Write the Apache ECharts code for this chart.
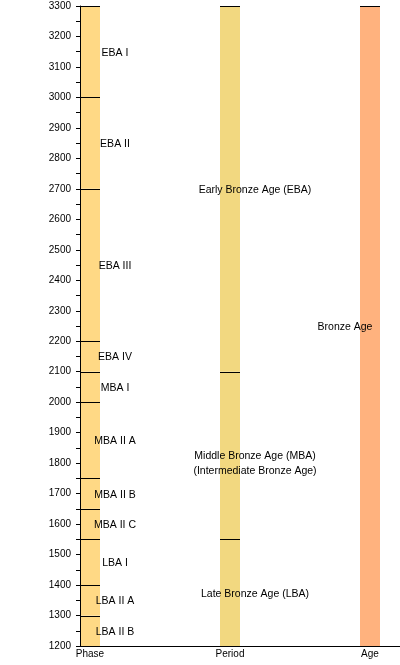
<!DOCTYPE html>
<html>
<head>
    <meta charset="UTF-8">
    <title>Bronze Age chronology</title>
    <script src="https://cdn.jsdelivr.net/npm/echarts@6/dist/echarts.min.js"></script>
</head>
<body style="margin: 0; background: #fff;">
<div id="main" style="width: 400px; height: 665px;"></div>
<script>
    // columns of the chart
    var columns = ['Phase', 'Period', 'Age'];

    // boundaries (BCE) and names of each level
    var phaseBounds = [3300, 3000, 2700, 2200, 2100, 2000, 1750, 1650, 1550, 1400, 1300, 1200];
    var phaseNames = ['EBA I', 'EBA II', 'EBA III', 'EBA IV', 'MBA I', 'MBA II A', 'MBA II B',
        'MBA II C', 'LBA I', 'LBA II A', 'LBA II B'];

    var periodBounds = [3300, 2100, 1550, 1200];
    var periodNames = ['Early Bronze Age (EBA)', 'Middle Bronze Age (MBA)\n(Intermediate Bronze Age)',
        'Late Bronze Age (LBA)'];

    var ageBounds = [3300, 1200];
    var ageNames = ['Bronze Age'];

    var colors = ['#ffd985', '#f2d880', '#ffb27e'];
    var labelShift = [25, 25, -25];

    function toData(col, bounds, names) {
        var out = [];
        for (var i = 0; i < names.length; i++) {
            out.push([col, bounds[i], bounds[i + 1], names[i]]);
        }
        return out;
    }

    function renderItem(params, api) {
        var col = api.value(0);
        var top = api.coord([col, api.value(1)]);
        var bot = api.coord([col, api.value(2)]);
        var name = api.value(3);
        var w = 20;
        var x0 = top[0] - w / 2;
        var yTop = Math.round(top[1]) + 0.5;
        var yBot = Math.round(bot[1]) + 0.5;
        var lines = String(name).split('\n').length;
        var lh = 15;
        return {
            type: 'group',
            children: [
                {
                    type: 'rect',
                    shape: {x: x0, y: top[1], width: w, height: bot[1] - top[1]},
                    style: {fill: colors[col]}
                },
                {
                    type: 'line',
                    shape: {x1: x0, y1: yTop, x2: x0 + w, y2: yTop},
                    style: {stroke: '#000', lineWidth: 1}
                },
                {
                    type: 'line',
                    shape: {x1: x0, y1: yBot, x2: x0 + w, y2: yBot},
                    style: {stroke: '#000', lineWidth: 1}
                },
                {
                    type: 'text',
                    style: {
                        text: name,
                        x: top[0] + labelShift[col],
                        y: (top[1] + bot[1]) / 2 + 1 + (lines - 1) * lh / 2,
                        align: 'center',
                        verticalAlign: 'middle',
                        lineHeight: lh,
                        fill: '#000',
                        font: '10.5px "Liberation Sans", Arial, sans-serif'
                    }
                }
            ]
        };
    }

    var chart = echarts.init(document.getElementById('main'));
    var option = {
        animation: false,
        grid: {left: 80, right: 0, top: 6, bottom: 19},
        xAxis: {
            type: 'value',
            z: 5,
            min: -1 / 14,
            max: 31 / 14,
            splitLine: {show: false},
            axisLine: {show: true, onZero: false, lineStyle: {color: '#000', width: 1}},
            axisTick: {show: false},
            axisLabel: {
                customValues: [0, 1, 2],
                formatter: function (v) { return columns[Math.round(v)]; },
                color: '#000',
                fontSize: 10,
                fontFamily: '"Liberation Sans", Arial, sans-serif',
                margin: 3,
                showMinLabel: true,
                showMaxLabel: true
            }
        },
        yAxis: {
            type: 'value',
            z: 5,
            min: 1200,
            max: 3300,
            interval: 100,
            splitLine: {show: false},
            axisLine: {show: true, onZero: false, lineStyle: {color: '#000', width: 1}},
            axisTick: {show: true, length: 4, lineStyle: {color: '#000', width: 1}},
            minorTick: {show: true, splitNumber: 2, length: 4, lineStyle: {color: '#000', width: 1}},
            axisLabel: {
                formatter: function (v) { return String(v); },
                color: '#000',
                fontSize: 10,
                fontFamily: '"Liberation Sans", Arial, sans-serif',
                margin: 9
            }
        },
        series: [
            {type: 'custom', renderItem: renderItem, data: toData(0, phaseBounds, phaseNames)},
            {type: 'custom', renderItem: renderItem, data: toData(1, periodBounds, periodNames)},
            {type: 'custom', renderItem: renderItem, data: toData(2, ageBounds, ageNames)}
        ]
    };
    chart.setOption(option);
</script>
</body>
</html>
